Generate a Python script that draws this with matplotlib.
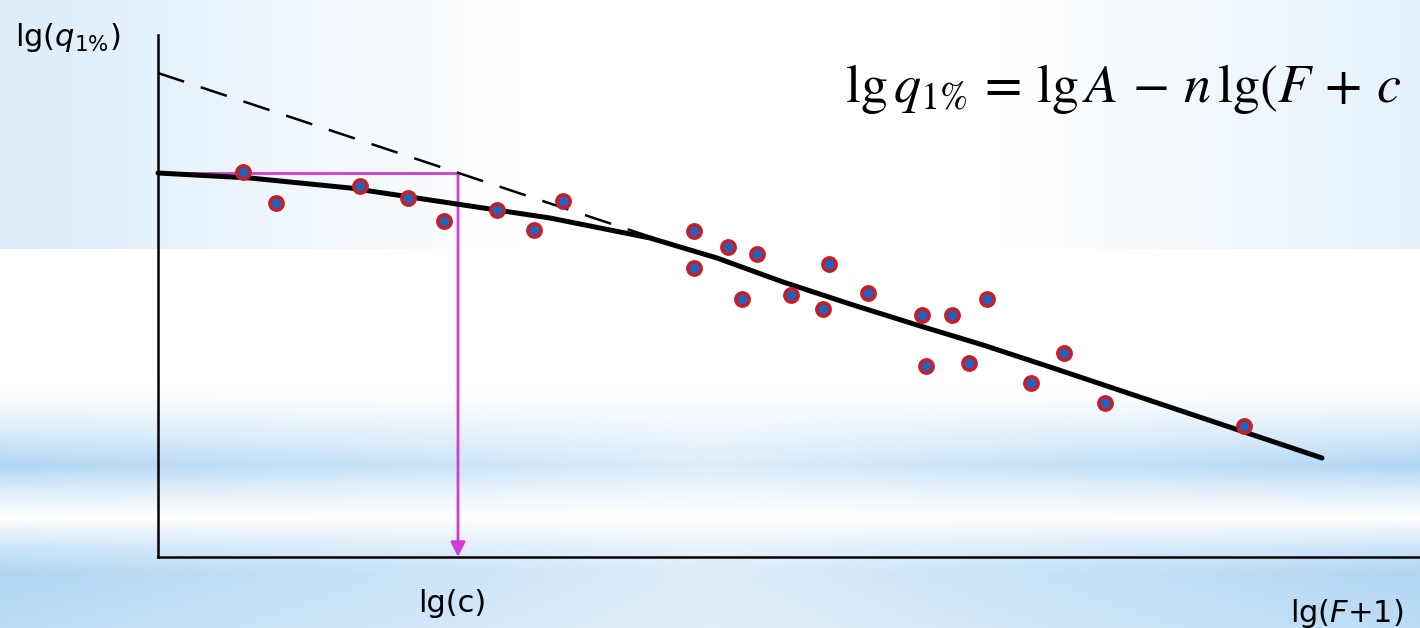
import numpy as np
import matplotlib
matplotlib.use('Agg')
from matplotlib import pyplot as plt

# observed points (lg(F+1), lg q1%) in chart units
pts_x = [0.85, 1.18, 2.02, 2.50, 2.86, 3.39, 3.76, 4.05, 5.36, 5.36, 5.70,
         5.99, 5.84, 6.33, 6.65, 6.71, 7.10, 7.64, 7.68, 7.94, 8.11, 8.29,
         8.73, 9.06, 9.47, 10.86]
pts_y = [3.85, 3.54, 3.71, 3.59, 3.36, 3.47, 3.27, 3.56, 3.26, 2.89, 3.10,
         3.03, 2.58, 2.62, 2.48, 2.93, 2.64, 2.42, 1.91, 2.42, 1.94, 2.58,
         1.74, 2.04, 1.54, 1.31]

# fitted curve
fit_x = [0.0, 0.92, 1.92, 2.92, 3.92, 4.92, 5.59, 6.25, 6.92, 7.59, 8.25,
         8.92, 11.64]
fit_y = [3.84, 3.79, 3.69, 3.54, 3.39, 3.19, 2.99, 2.75, 2.53, 2.32, 2.12,
         1.90, 0.99]

# tangent (asymptote) dashed line
tan_x = [0.0, 5.47]
tan_y = [4.84, 3.02]

lgc = 3.00
lgc_y = 3.84

# background gradient (decoration only)
H, W = 628, 1420
yy, xx = np.mgrid[0:H, 0:W]
top = np.clip((520 - xx) / 520, 0, 1) * 0.45 + np.clip((xx - 1000) / 420, 0, 1) * 0.32
top = np.where(yy < 249, top, 0)
prof = np.interp(yy, [380, 400, 440, 465, 490, 517, 545, 572, 628],
                 [0, 0.08, 0.6, 1.0, 0.45, 0.0, 0.6, 1.0, 0.85])
hfac = 0.45 + 0.55 * np.abs(xx - 710) / 710
t = np.maximum(top, prof * hfac)[..., None]
blue = np.array([176, 214, 244]) / 255
bg_img = (1 - t) * np.ones(3) + t * blue

fig = plt.figure(figsize=(14.2, 6.28), dpi=100)
bg = fig.add_axes([0, 0, 1, 1])
bg.imshow(bg_img, aspect='auto', interpolation='bilinear')
bg.axis('off')

ax = fig.add_axes([0, 0, 1, 1])
ax.patch.set_alpha(0)
ax.set_xlim(-1.58, 12.62)
ax.set_ylim(-0.71, 5.57)

for s in ['top', 'right']:
    ax.spines[s].set_visible(False)
ax.spines['left'].set_position(('data', 0))
ax.spines['bottom'].set_position(('data', 0))
ax.spines['left'].set_bounds(0, 5.22)
ax.spines['bottom'].set_bounds(0, 12.62)
ax.spines['left'].set_linewidth(1.8)
ax.spines['bottom'].set_linewidth(1.8)
ax.set_xticks([])
ax.set_yticks([])

mag = '#d13bd6'
ax.plot([0, lgc], [lgc_y, lgc_y], color=mag, lw=2, zorder=2)
ax.annotate('', xy=(lgc, 0), xytext=(lgc, lgc_y),
            arrowprops=dict(arrowstyle='-|>', color=mag, lw=2,
                            mutation_scale=22, shrinkA=0, shrinkB=0),
            zorder=2)

ax.plot(tan_x, tan_y, color='black', lw=1.8, dashes=(11, 7), zorder=3)
ax.plot(fit_x, fit_y, color='black', lw=3.6, solid_capstyle='round', zorder=3)
ax.plot(pts_x, pts_y, 'o', ms=9.5, mfc='#1f63c0', mec='#c81e28', mew=2.6, zorder=4)

lab = dict(family='DejaVu Sans', fontsize=22, math_fontfamily='dejavusans')
fig.text(15 / W, 1 - 46 / H, r'lg($q$$_{1\%}$)', **lab)
fig.text(418 / W, 1 - 612 / H, 'lg(c)', **lab)
fig.text(1290 / W, 1 - 622 / H, 'lg($F$+1)', **lab)

fig.text(845 / W, 1 - 102 / H,
         r'$\mathrm{lg}\,q_{1\%}\,=\,\mathrm{lg}\,A\,-\,n\,\mathrm{lg}(F\,+\,c$',
         fontsize=39, math_fontfamily='stix')

fig.savefig('out.png', dpi=100)
